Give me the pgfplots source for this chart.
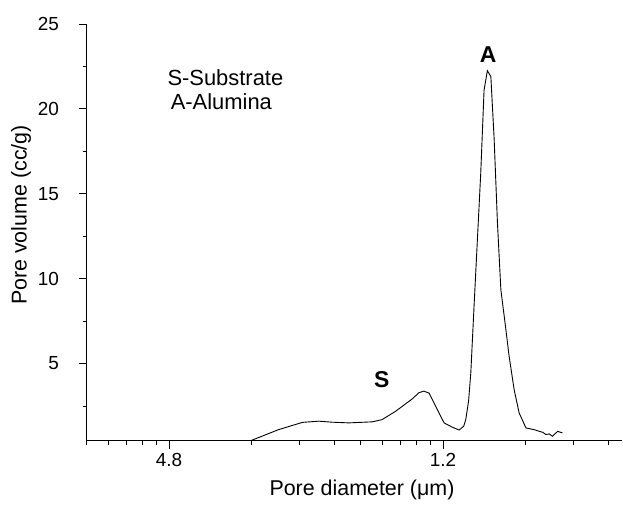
\documentclass[border=0pt]{standalone}
\usepackage{fontspec}
\setmainfont{Liberation Sans}
\usepackage{pgfplots}
\pgfplotsset{compat=1.18}

\begin{document}
\begin{tikzpicture}
\path[use as bounding box] (-86.5bp,-66.3bp) rectangle (536.5bp,440.7bp);
\begin{axis}[
    scale only axis,
    width=535.5bp, height=416.7bp,
    xmode=log,
    xmin=0.5, xmax=45,
    ymin=0.45, ymax=25,
    axis lines*=left,
    axis line style={line width=1.1bp},
    tick align=outside,
    tick style={black, line width=0.8bp},
    major tick length=8bp,
    minor tick length=4bp,
    xtick={1,10},
    xticklabels={4.8,1.2},
    minor xtick={0.5,0.6,0.7,0.8,0.9,2,3,4,5,6,7,8,9,20,30,40},
    ytick={5,10,15,20,25},
    minor ytick={2.5,7.5,12.5,17.5,22.5},
    /pgf/number format/assume math mode=true,
    ticklabel style={font=\fontsize{19}{22}\selectfont},
    yticklabel style={xshift=-16bp},
    xticklabel style={yshift=-1bp},
    label style={font=\fontsize{21.5}{25}\selectfont},
    xlabel={Pore diameter (μm)},
    ylabel={Pore volume (cc/g)},
    xlabel style={at={(axis description cs:0.5145,-0.1176)}, anchor=center},
    ylabel style={at={(axis description cs:-0.1223,0.5416)}, anchor=center, rotate=0},
    clip=false,
]
\addplot[black, line width=0.9bp] table {
x y
2.00 0.47
2.51 1.10
3.07 1.53
3.52 1.60
3.94 1.54
4.53 1.50
5.51 1.56
5.99 1.69
6.71 2.18
7.72 2.91
8.17 3.28
8.52 3.37
8.90 3.25
9.40 2.48
10.09 1.50
10.80 1.25
11.45 1.08
11.90 1.30
12.11 1.70
12.40 2.80
12.63 4.44
12.98 8.36
13.35 12.30
13.73 16.20
14.12 21.10
14.52 22.25
14.95 21.90
15.37 18.20
15.80 13.30
16.26 9.35
16.96 7.00
17.43 5.42
18.18 3.46
18.96 2.09
20.08 1.20
21.53 1.10
22.46 1.00
23.10 0.95
23.75 0.81
24.40 0.85
25.10 0.71
25.60 0.85
26.20 1.00
26.80 0.95
27.30 0.91
};
\node[anchor=west, font=\fontsize{22}{26}\selectfont] at (axis cs:0.959,21.82) {S-Substrate};
\node[anchor=west, font=\fontsize{22}{26}\selectfont] at (axis cs:0.986,20.41) {A-Alumina};
\node[font=\fontsize{23}{26}\selectfont\bfseries] at (axis cs:14.62,23.18) {A};
\node[font=\fontsize{23}{26}\selectfont\bfseries] at (axis cs:5.98,4.05) {S};
\end{axis}
\end{tikzpicture}
\end{document}
